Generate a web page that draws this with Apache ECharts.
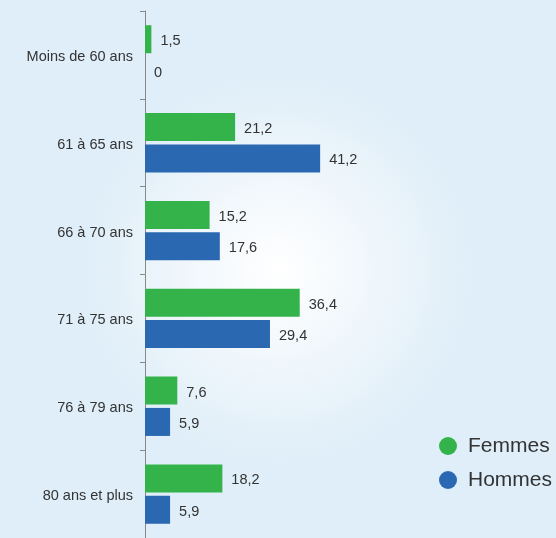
<!DOCTYPE html>
<html>
<head>
<meta charset="utf-8">
<script src="https://cdn.jsdelivr.net/npm/echarts@6/dist/echarts.min.js"></script>
<style>html,body{margin:0;padding:0;}#c{width:556px;height:538px;}</style>
</head>
<body>
<div id="c"></div>
<script>
const categories = ['Moins de 60 ans', '61 à 65 ans', '66 à 70 ans', '71 à 75 ans', '76 à 79 ans', '80 ans et plus'];
const femmes = [1.5, 21.2, 15.2, 36.4, 7.6, 18.2];
const hommes = [0, 41.2, 17.6, 29.4, 5.9, 5.9];
const seriesNames = ['Femmes', 'Hommes'];

const chart = echarts.init(document.getElementById('c'));
const fmt = p => String(p.value).replace('.', ',');
const FONT = 'Liberation Sans, Arial, sans-serif';
const labelStyle = { show: true, position: 'right', distance: 9, offset: [0, 2], formatter: fmt, color: '#333', fontSize: 14.5, fontFamily: FONT };
chart.setOption({
  backgroundColor: {
    type: 'radial', x: 0.5, y: 0.5, r: 0.36,
    colorStops: [{ offset: 0, color: '#ffffff' }, { offset: 0.3, color: '#f6fafd' }, { offset: 1, color: '#dfeef8' }]
  },
  animation: false,
  grid: { left: 145, top: 11, width: 400, height: 530, containLabel: false },
  xAxis: { type: 'value', min: 0, max: 94.1, show: false },
  yAxis: {
    type: 'category', data: categories, inverse: true,
    axisLine: { lineStyle: { color: '#888', width: 1 } },
    axisTick: { show: true, length: 5, lineStyle: { color: '#888' } },
    axisLabel: { color: '#333', fontSize: 14.5, margin: 12, verticalAlign: 'top', lineHeight: 16, padding: [-6, 0, 0, 0], fontFamily: FONT },
    splitLine: { show: false }
  },
  legend: {
    orient: 'vertical', left: 434, top: 429, icon: 'circle',
    itemWidth: 18, itemHeight: 18, itemGap: 10,
    textStyle: { fontSize: 21, lineHeight: 24, color: '#333', fontFamily: FONT, padding: [0, 0, 0, 6] },
    data: seriesNames
  },
  series: [
    { name: seriesNames[0], type: 'bar', data: femmes, barWidth: 28, barGap: '12%', itemStyle: { color: '#33b34a' }, label: labelStyle },
    { name: seriesNames[1], type: 'bar', data: hommes, barWidth: 28, barGap: '12%', itemStyle: { color: '#2a68b2' }, label: labelStyle }
  ]
});
</script>
</body>
</html>
